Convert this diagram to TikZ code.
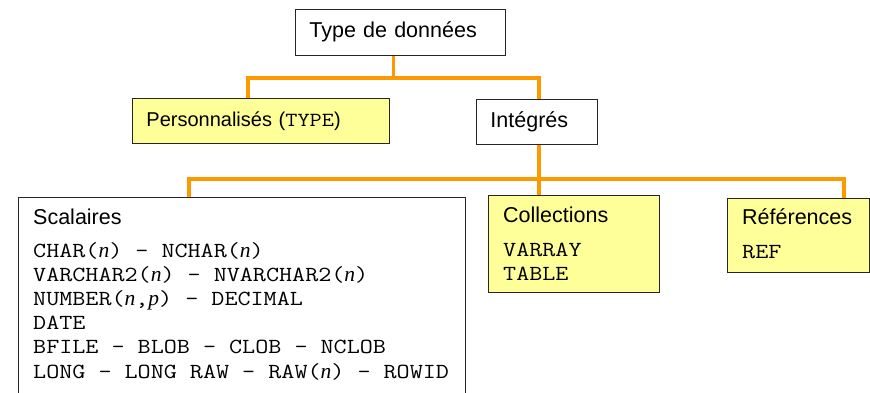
\documentclass[tikz,border=0pt]{standalone}
\usepackage{fontspec}
\setmainfont{Liberation Sans}
\setmonofont[FakeStretch=1.18]{Latin Modern Mono}
\newfontfamily\timesfont{Liberation Serif}
\usetikzlibrary{calc}
\definecolor{busorange}{RGB}{255,153,0}
\definecolor{boxyellow}{RGB}{255,255,153}
\newcommand{\nvar}[1]{{\timesfont\itshape #1}}
\newcommand{\bigtxt}{\fontsize{21.5}{24}\selectfont}

\begin{document}
\begin{tikzpicture}[x=1pt, y=-1pt,
    box/.style={draw=black!85, line width=0.9pt, anchor=north west, inner sep=0pt},
    onebox/.style={box, align=left, inner xsep=14pt, inner ysep=0pt,
      text height=15pt, text depth=4pt, font=\bigtxt},
    boxtitle/.style={anchor=base west, inner sep=0pt, font=\bigtxt},
    typelist/.style={anchor=base west, inner sep=0pt, font=\bigtxt\ttfamily},
    bus/.style={draw=busorange, line width=3.6pt}]
  \useasboundingbox (0,0) rectangle (870,392);

  % first level
  \node[onebox, fill=white, text width=182pt, minimum height=46pt] (top) at (295,9) {Type de donn\'ees};
  \node[onebox, fill=boxyellow, text width=229pt, minimum height=45pt,
    font=\fontsize{20}{24}\selectfont] (perso) at (132,98) {Personnalis\'es (\texttt{TYPE})};
  \node[onebox, fill=white, text width=93pt, minimum height=45pt] (integ) at (476,99) {Int\'egr\'es};

  % second level
  \node[box, fill=white, minimum width=447pt, minimum height=198pt] (scal) at (18,197) {};
  \node[box, fill=boxyellow, minimum width=171pt, minimum height=97pt] (coll) at (488,195) {};
  \node[box, fill=boxyellow, minimum width=142pt, minimum height=74pt] (refs) at (727,198) {};

  \node[boxtitle] (scalt) at ($(scal.north west)+(15,27)$) {Scalaires};
  \foreach \txt [count=\i] in {{CHAR(\nvar{n}) - NCHAR(\nvar{n})},
      {VARCHAR2(\nvar{n}) - NVARCHAR2(\nvar{n})},
      {NUMBER(\nvar{n},\nvar{p}) - DECIMAL},
      {DATE},
      {BFILE - BLOB - CLOB - NCLOB},
      {LONG - LONG RAW - RAW(\nvar{n}) - ROWID}}
    \node[typelist] (scal\i) at ($(scal.north west)+(15,{60+24.2*(\i-1)})$) {\txt};

  \node[boxtitle] (collt) at ($(coll.north west)+(15,27)$) {Collections};
  \node[typelist] (coll1) at ($(coll.north west)+(15,61)$) {VARRAY};
  \node[typelist] (coll2) at ($(coll.north west)+(15,85)$) {TABLE};

  \node[boxtitle] (refst) at ($(refs.north west)+(15,26)$) {R\'ef\'erences};
  \node[typelist] (refs1) at ($(refs.north west)+(15,60)$) {REF};

  % orange connectors
  \coordinate (bus1) at ($(top.south)+(-7,22)$);
  \draw[bus] ($(top.south)+(-7,0)$) -- (bus1);
  \draw[bus] (bus1) -| ($(perso.north west)+(116,0)$);
  \draw[bus] (bus1) -| ($(integ.north west)+(63,0)$);

  \coordinate (bus2) at ($(integ.south west)+(63,34)$);
  \draw[bus] ($(integ.south west)+(63,0)$) -- (bus2);
  \draw[bus] (bus2) -| ($(scal.north west)+(171,0)$);
  \draw[bus] (bus2) -| ($(coll.north west)+(51,0)$);
  \draw[bus] (bus2) -| ($(refs.north west)+(117,0)$);
\end{tikzpicture}
\end{document}
